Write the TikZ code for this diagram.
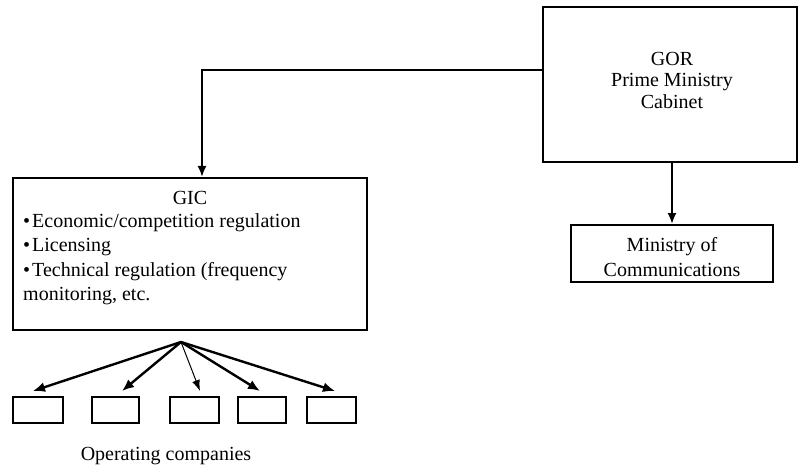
\documentclass[tikz,border=0pt]{standalone}
\usepackage{fontspec}
\setmainfont{Liberation Serif}
\usetikzlibrary{arrows.meta}
\newcommand{\bul}{\textbullet\kern2pt}
\begin{document}
\begin{tikzpicture}[x=1pt,y=-1pt,
  box/.style={draw,line width=2pt,inner sep=0pt},
  txt/.style={font=\fontsize{20}{24.5}\selectfont,align=center,inner sep=0pt},
  conn/.style={line width=2pt,-{Latex[length=11pt,width=9pt]}},
  fan/.style={line width=2.4pt,-{Latex[length=12pt,width=10pt]}},
  fanthin/.style={line width=1pt,-{Latex[length=11pt,width=8pt]}}]
\useasboundingbox (0,0) rectangle (798,476);
% GOR
\node[box,minimum width=254pt,minimum height=155pt] (gor) at (670,84.5) {};
\node[txt,font=\fontsize{20}{21.5}\selectfont] (gort) at (672,80) {GOR\\Prime Ministry\\Cabinet};
% Ministry
\node[box,minimum width=202pt,minimum height=57pt] (min) at (672,253.5) {};
\node[txt] (mint) at (672,257) {Ministry of\\Communications};
% GIC
\node[box,minimum width=354pt,minimum height=152pt] (gic) at (190,254) {};
\node[txt] (gict) at (190,198) {GIC};
\node[txt,align=left,anchor=north west] (gicl) at (23,213)
  {\bul Economic/competition regulation\\
   \bul Licensing\\
   \bul Technical regulation (frequency\\
   monitoring, etc.};
% connectors
\coordinate (bend) at (202,70);
\draw[conn] (gor.west |- bend) -- (bend) -- (bend |- gic.north);
\draw[conn] (gor.south -| min.north) -- (min.north);
% fan
\coordinate (src) at (181,342);
\node[box,minimum width=50pt,minimum height=26pt] (c1) at (38,410) {};
\node[box,minimum width=47pt,minimum height=26pt] (c2) at (115.5,410) {};
\node[box,minimum width=49pt,minimum height=26pt] (c3) at (194.5,410) {};
\node[box,minimum width=48pt,minimum height=26pt] (c4) at (262,410) {};
\node[box,minimum width=49pt,minimum height=26pt] (c5) at (331.5,410) {};
\coordinate (e1) at (33,391);
\coordinate (e2) at (122,391);
\coordinate (e3) at (200,391);
\coordinate (e4) at (260,391);
\coordinate (e5) at (335,391);
\draw[fan] (src) -- (e1);
\draw[fan] (src) -- (e2);
\draw[fanthin] (src) -- (e3);
\draw[fan] (src) -- (e4);
\draw[fan] (src) -- (e5);
\node[txt] (op) at (166,456) {Operating companies};
\end{tikzpicture}
\end{document}
